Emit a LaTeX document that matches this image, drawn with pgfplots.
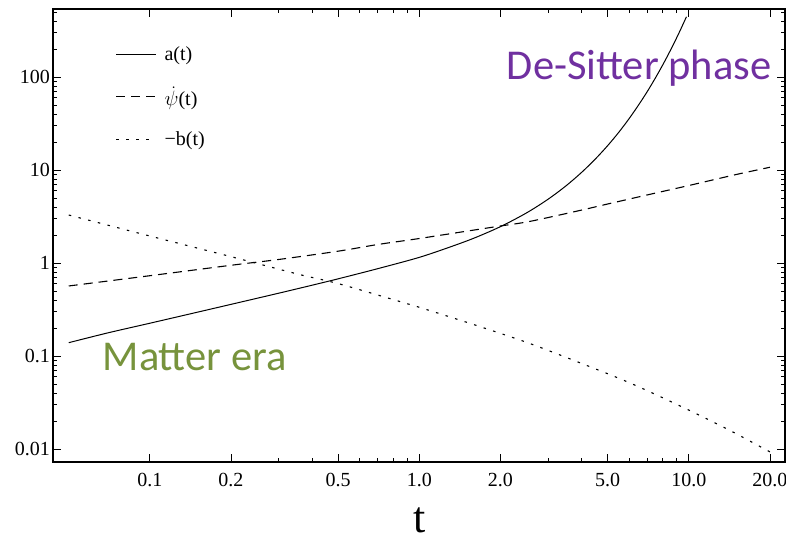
\documentclass[border=0pt]{standalone}
\usepackage{fontspec}
\setmainfont{Liberation Serif}
\newfontfamily\calibri{Carlito}
\usepackage{pgfplots}
\pgfplotsset{compat=1.18}
\definecolor{desitter}{HTML}{7030A0}
\definecolor{matter}{HTML}{77933C}
\begin{document}
\begin{tikzpicture}
\begin{axis}[
  at={(0pt,0pt)}, anchor=south west,
  scale only axis, width=732pt, height=453pt,
  xmode=log, ymode=log,
  xmin=0.0437, xmax=22.75, ymin=0.00724, ymax=539,
  xtick={0.1,0.2,0.5,1,2,5,10,20},
  xticklabels={0.1,0.2,0.5,1.0,2.0,5.0,10.0,20.0},
  minor xtick={0.3,0.4,0.6,0.7,0.8,0.9,3,4,6,7,8,9},
  ytick={0.01,0.1,1,10,100},
  yticklabels={0.01,0.1,1,10,100},
  minor ytick={0.02,0.03,0.04,0.05,0.06,0.07,0.08,0.09,0.2,0.3,0.4,0.5,0.6,0.7,0.8,0.9,2,3,4,5,6,7,8,9,20,30,40,50,60,70,80,90,200,300,400,500},
  tick align=inside,
  major tick length=8pt, minor tick length=4pt,
  every tick/.style={black, line width=0.8pt},
  axis line style={line width=1.2pt},
  tick label style={font=\fontsize{20}{22}\selectfont},
  xticklabel style={inner sep=0pt, anchor=north, yshift=-11pt},
  yticklabel style={inner sep=0pt, anchor=east, xshift=-3pt},
  xlabel={t},
  xlabel style={at={(axis description cs:0.5014,0)}, anchor=base, inner sep=0pt, yshift=-70pt, font=\fontsize{44}{48}\selectfont},
  legend style={draw=none, fill=none, at={(0.081,0.926)}, anchor=north west,
    font=\fontsize{20}{22}\selectfont, row sep=20.5pt},
  legend cell align=left,
  legend image code/.code={\draw[#1] (0pt,0pt) -- (40pt,0pt); \path (46pt,0pt);},
]
\addplot[black, line width=1pt, smooth] coordinates {
(0.05,0.139) (0.07,0.1775) (0.1,0.225) (0.15,0.2956) (0.2,0.359) (0.3,0.4726)
(0.4,0.577) (0.5,0.676) (0.7,0.868) (1,1.15) (1.3,1.486) (1.6,1.857)
(2,2.46) (2.5,3.459) (3,4.837) (3.5,6.75) (4,9.42) (4.5,13.14) (5,18.3)
(5.5,25.5) (6,35.6) (6.5,49.7) (7,69.2) (7.5,96.6) (8,134.7) (8.5,187.9)
(9,261.8) (9.4,341.6) (9.8,445)
};
\addlegendentry{a(t)}
\addplot[black, line width=1.1pt, smooth, dash pattern=on 9pt off 6pt] coordinates {
(0.05,0.566) (0.1,0.73) (0.2,0.945) (0.3,1.09) (0.5,1.34) (0.7,1.58) (1,1.834)
(1.5,2.2) (2,2.5) (2.57,2.8) (3.94,3.67) (5,4.31) (7.4,5.59) (10,6.81)
(15,8.95) (20,10.7)
};
\addlegendentry{$\dot{\psi}$(t)}
\addplot[black, line width=1.1pt, smooth, dash pattern=on 2.5pt off 7.5pt] coordinates {
(0.05,3.28) (0.1,1.95) (0.2,1.17) (0.357,0.755) (0.5,0.60) (0.876,0.374)
(1.048,0.320) (1.62,0.214) (2.52,0.139) (3.88,0.0861) (5.97,0.0521)
(9.08,0.0299) (13.7,0.0167) (19.1,0.0100) (20,0.0093)
};
\addlegendentry{−b(t)}
\node[anchor=base west, inner sep=0pt, text=desitter, font=\calibri\fontsize{42.5}{46}\selectfont] at (axis cs:2.11,93) {De-Sitter phase};
\node[anchor=base west, inner sep=0pt, text=matter, font=\calibri\fontsize{42.5}{46}\selectfont] at (axis cs:0.0667,0.0695) {Matter era};
\end{axis}
\pgfresetboundingbox
\useasboundingbox (-53pt,-79pt) rectangle (733pt,462pt);
\end{tikzpicture}
\end{document}
